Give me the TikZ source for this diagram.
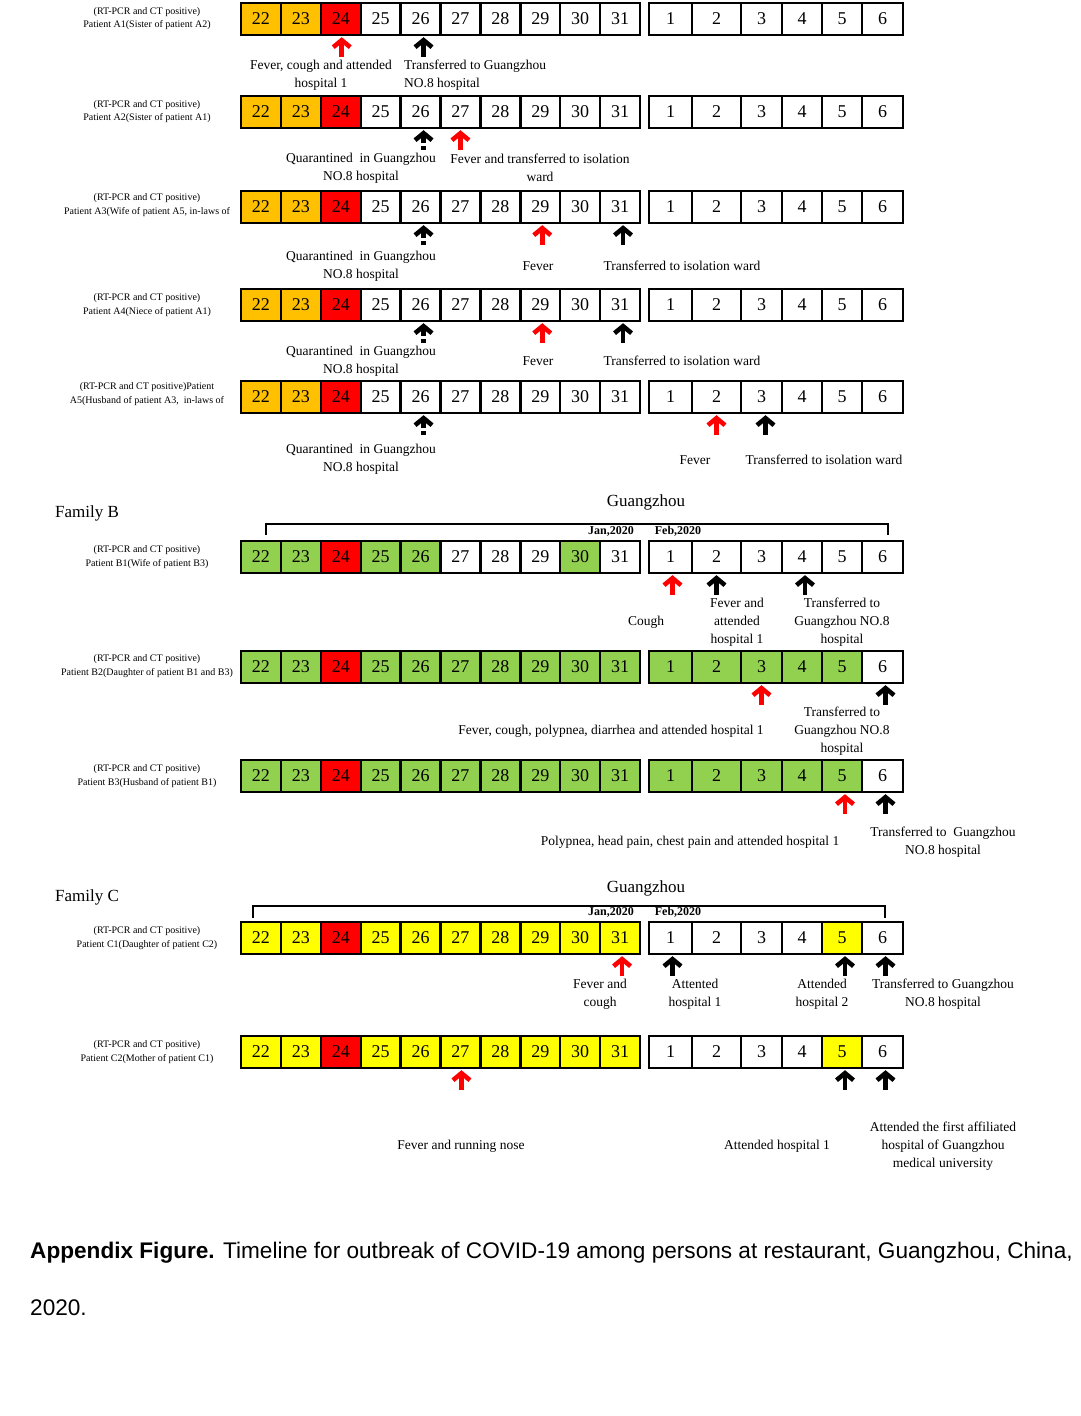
\documentclass[tikz,border=0pt]{standalone}
\usepackage{fontspec}
\setmainfont{Liberation Serif}
\newfontfamily\capfont{Liberation Sans}
\usetikzlibrary{arrows.meta}
\definecolor{orA}{HTML}{FFC000}
\definecolor{rdA}{HTML}{FF0000}
\definecolor{grB}{HTML}{92D050}
\definecolor{ylC}{HTML}{FFFF00}
\tikzset{
  cell/.style={draw=black, line width=2.4pt, inner sep=0pt, minimum height=32pt,
    font=\fontsize{18}{18}\selectfont, text=black},
  arr/.style={line width=4.6pt, -{Straight Barb[length=7pt,width=17pt]}},
  redarr/.style={arr, draw=rdA},
  blkarr/.style={arr, draw=black},
  qarr/.style={arr, draw=black, dash pattern=on 4pt off 3.5pt on 30pt off 0pt},
  lbl/.style={font=\fontsize{13.5}{18}\selectfont, align=center, inner sep=0pt},
  plbl/.style={font=\fontsize{10}{13.5}\selectfont, align=center, inner sep=0pt},
  fam/.style={font=\fontsize{17}{20}\selectfont, inner sep=0pt},
  mon/.style={font=\bfseries\fontsize{12}{12}\selectfont, inner sep=0pt},
  brk/.style={line width=2pt},
  captext/.style={font=\capfont\fontsize{22.6}{22.6}\selectfont, inner sep=0pt, anchor=west}
}
% #1 row name, #2 y centre, #3 ten Jan fills, #4 six Feb fills
\newcommand\tlrow[4]{%
  \foreach \c [count=\i from 0] in {#3} {
    \pgfmathsetmacro\xa{241+39.9*\i}
    \pgfmathtruncatemacro\dd{22+\i}
    \node[cell, fill=\c, minimum width=39.9pt] (#1-\dd) at (\xa+19.95, #2) {\dd};
  }
  \foreach \c [count=\i from 0] in {#4} {
    \pgfmathsetmacro\xa{{649,692,741,782,822,862}[\i]}
    \pgfmathsetmacro\xb{{692,741,782,822,862,903}[\i]}
    \pgfmathtruncatemacro\dd{\i+1}
    \node[cell, fill=\c, minimum width=\xb-\xa] (#1-\dd) at ({(\xa+\xb)/2}, #2) {\dd};
  }
}
% #1 style, #2 cell, #3 xshift
\newcommand\evar[3]{\draw[#1] ([xshift=#3pt,yshift=-21pt]#2.south) -- ([xshift=#3pt,yshift=-1pt]#2.south);}
\begin{document}
\begin{tikzpicture}[x=1pt, y=-1pt]
\useasboundingbox (0,0) rectangle (1080,1416);
\fill[white] (0,0) rectangle (1080,1416);

% ---------- Family A ----------
\tlrow{A1}{19}{orA,orA,rdA,white,white,white,white,white,white,white}{white,white,white,white,white,white}
\tlrow{A2}{112}{orA,orA,rdA,white,white,white,white,white,white,white}{white,white,white,white,white,white}
\tlrow{A3}{207}{orA,orA,rdA,white,white,white,white,white,white,white}{white,white,white,white,white,white}
\tlrow{A4}{305}{orA,orA,rdA,white,white,white,white,white,white,white}{white,white,white,white,white,white}
\tlrow{A5}{397}{orA,orA,rdA,white,white,white,white,white,white,white}{white,white,white,white,white,white}

\node[plbl] (pA1) at (147,18.5) {(RT-PCR and CT positive)\\Patient A1(Sister of patient A2)};
\node[plbl] (pA2) at (147,111.5) {(RT-PCR and CT positive)\\Patient A2(Sister of patient A1)};
\node[plbl] (pA3) at (147,205) {(RT-PCR and CT positive)\\Patient A3(Wife of patient A5, in-laws of};
\node[plbl] (pA4) at (147,305) {(RT-PCR and CT positive)\\Patient A4(Niece of patient A1)};
\node[plbl] (pA5) at (147,394) {(RT-PCR and CT positive)Patient\\A5(Husband of patient A3,\ \ in-laws of};

\evar{redarr}{A1-24}{1}
\evar{blkarr}{A1-26}{3}
\node[lbl] (lA1a) at (321,75) {Fever, cough and attended\\hospital 1};
\node[lbl, align=left, anchor=west] (lA1b) at (404,75) {Transferred to Guangzhou\\NO.8 hospital};

\evar{qarr}{A2-26}{3}
\evar{redarr}{A2-27}{0}
\node[lbl] (lA2a) at (361,168) {Quarantined\ \ in Guangzhou\\NO.8 hospital};
\node[lbl] (lA2b) at (540,168) {Fever and transferred to isolation\\ward};

\evar{qarr}{A3-26}{3}
\evar{redarr}{A3-29}{2}
\evar{blkarr}{A3-31}{3}
\node[lbl] (lA3a) at (361,266) {Quarantined\ \ in Guangzhou\\NO.8 hospital};
\node[lbl] (lA3b) at (538,266) {Fever};
\node[lbl] (lA3c) at (682,266) {Transferred to isolation ward};

\evar{qarr}{A4-26}{3}
\evar{redarr}{A4-29}{2}
\evar{blkarr}{A4-31}{3}
\node[lbl] (lA4a) at (361,361) {Quarantined\ \ in Guangzhou\\NO.8 hospital};
\node[lbl] (lA4b) at (538,361) {Fever};
\node[lbl] (lA4c) at (682,361) {Transferred to isolation ward};

\evar{qarr}{A5-26}{3}
\evar{redarr}{A5-2}{0}
\evar{blkarr}{A5-3}{4}
\node[lbl] (lA5a) at (361,459.5) {Quarantined\ \ in Guangzhou\\NO.8 hospital};
\node[lbl] (lA5b) at (695,460) {Fever};
\node[lbl] (lA5c) at (824,460) {Transferred to isolation ward};

% ---------- Family B ----------
\node[fam, anchor=west] (famB) at (55,513) {Family B};
\node[fam] (gzB) at (646,502) {Guangzhou};
\draw[brk] (266,535) -- (266,524) -- (888,524) -- (888,535);
\node[mon] (janB) at (611,531) {Jan,2020};
\node[mon] (febB) at (678,531) {Feb,2020};

\tlrow{B1}{557}{grB,grB,rdA,grB,grB,white,white,white,grB,white}{white,white,white,white,white,white}
\tlrow{B2}{667}{grB,grB,rdA,grB,grB,grB,grB,grB,grB,grB}{grB,grB,grB,grB,grB,white}
\tlrow{B3}{776}{grB,grB,rdA,grB,grB,grB,grB,grB,grB,grB}{grB,grB,grB,grB,grB,white}

\node[plbl] (pB1) at (147,557) {(RT-PCR and CT positive)\\Patient B1(Wife of patient B3)};
\node[plbl] (pB2) at (147,666) {(RT-PCR and CT positive)\\Patient B2(Daughter of patient B1 and B3)};
\node[plbl] (pB3) at (147,776) {(RT-PCR and CT positive)\\Patient B3(Husband of patient B1)};

\evar{redarr}{B1-1}{2}
\evar{blkarr}{B1-2}{0}
\evar{blkarr}{B1-4}{3}
\node[lbl] (lB1a) at (646,622) {Cough};
\node[lbl] (lB1b) at (737,622) {Fever and\\attended\\hospital 1};
\node[lbl] (lB1c) at (842,622) {Transferred to\\Guangzhou NO.8\\hospital};

\evar{redarr}{B2-3}{0}
\evar{blkarr}{B2-6}{3}
\node[lbl] (lB2a) at (611,731) {Fever, cough, polypnea, diarrhea and attended hospital 1};
\node[lbl] (lB2b) at (842,731) {Transferred to\\Guangzhou NO.8\\hospital};

\evar{redarr}{B3-5}{3}
\evar{blkarr}{B3-6}{3}
\node[lbl] (lB3a) at (690,842) {Polypnea, head pain, chest pain and attended hospital 1};
\node[lbl] (lB3b) at (943,842) {Transferred to\ \ Guangzhou\\NO.8 hospital};

% ---------- Family C ----------
\node[fam, anchor=west] (famC) at (55,897) {Family C};
\node[fam] (gzC) at (646,888) {Guangzhou};
\draw[brk] (253,918) -- (253,906) -- (885,906) -- (885,918);
\node[mon] (janC) at (611,912) {Jan,2020};
\node[mon] (febC) at (678,912) {Feb,2020};

\tlrow{C1}{938}{ylC,ylC,rdA,ylC,ylC,ylC,ylC,ylC,ylC,ylC}{white,white,white,white,ylC,white}
\tlrow{C2}{1052}{ylC,ylC,rdA,ylC,ylC,ylC,ylC,ylC,ylC,ylC}{white,white,white,white,ylC,white}

\node[plbl] (pC1) at (147,938) {(RT-PCR and CT positive)\\Patient C1(Daughter of patient C2)};
\node[plbl] (pC2) at (147,1052) {(RT-PCR and CT positive)\\Patient C2(Mother of patient C1)};

\evar{redarr}{C1-31}{2}
\evar{blkarr}{C1-1}{2}
\evar{blkarr}{C1-5}{3}
\evar{blkarr}{C1-6}{3}
\node[lbl] (lC1a) at (600,994) {Fever and\\cough};
\node[lbl] (lC1b) at (695,994) {Attented\\hospital 1};
\node[lbl] (lC1c) at (822,994) {Attended\\hospital 2};
\node[lbl] (lC1d) at (943,994) {Transferred to Guangzhou\\NO.8 hospital};

\evar{redarr}{C2-27}{1}
\evar{blkarr}{C2-5}{3}
\evar{blkarr}{C2-6}{3}
\node[lbl] (lC2a) at (461,1146) {Fever and running nose};
\node[lbl] (lC2b) at (777,1146) {Attended hospital 1};
\node[lbl] (lC2c) at (943,1146) {Attended the first affiliated\\hospital of Guangzhou\\medical university};

% ---------- Caption ----------
\node[captext] (cap1) at (30,1253) {\textbf{Appendix Figure.} Timeline for outbreak of COVID-19 among persons at restaurant, Guangzhou, China,};
\node[captext] (cap2) at (30,1308) {2020.};
\end{tikzpicture}
\end{document}
